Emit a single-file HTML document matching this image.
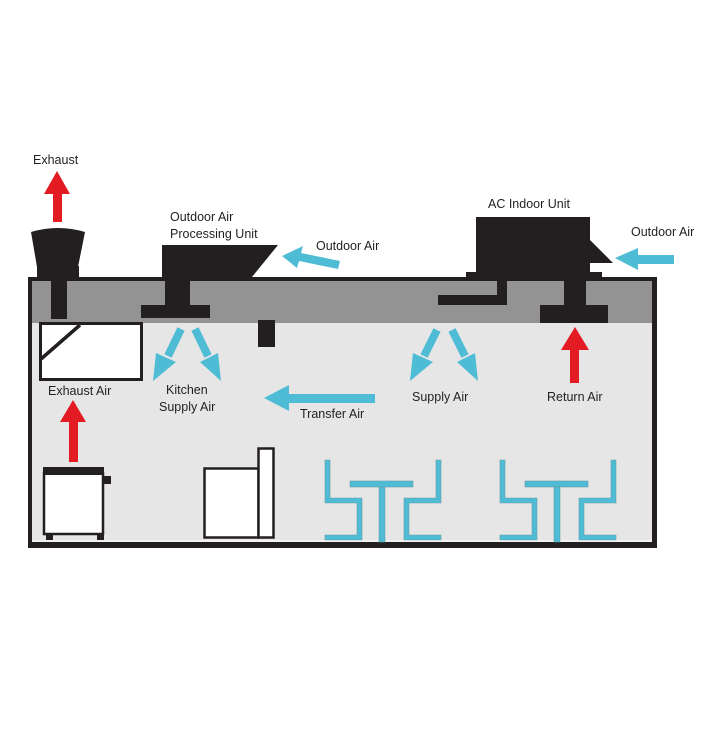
<!DOCTYPE html>
<html><head><meta charset="utf-8"><style>
html,body{margin:0;padding:0;background:#fff;}
svg{display:block;}
text{font-family:"Liberation Sans",sans-serif;font-size:12.5px;fill:#231f20;}
</style></head><body>
<svg width="720" height="752" viewBox="0 0 720 752">
<!-- building -->
<rect x="28" y="277" width="629" height="271" fill="#231f20"/>
<rect x="32" y="281" width="620" height="261" fill="#e6e6e6"/>
<rect x="32" y="281" width="620" height="42" fill="#939393"/>
<line x1="32" y1="541" x2="652" y2="541" stroke="#fff" stroke-width="1"/>

<!-- exhaust fan -->
<path d="M31,232 Q58,224 85,232 L78,267 L37,267 Z" fill="#231f20"/>
<rect x="37" y="266" width="42" height="11" fill="#231f20"/>
<rect x="51" y="281" width="16" height="38" fill="#231f20"/>
<polygon points="57,171 70,194 62,194 62,222 53,222 53,194 44,194" fill="#e31b23"/>
<text x="33" y="164">Exhaust</text>

<!-- OAPU -->
<polygon points="162,245 278,245 252,277 162,277" fill="#231f20"/>
<rect x="165" y="281" width="25" height="26" fill="#231f20"/>
<rect x="141" y="305" width="69" height="13" fill="#231f20"/>
<rect x="258" y="320" width="17" height="27" fill="#231f20"/>
<text x="170" y="221">Outdoor Air</text>
<text x="170" y="238">Processing Unit</text>
<text x="316" y="250">Outdoor Air</text>
<!-- outdoor air arrow left -->
<polygon points="282,256 303,246 301,253 340,261 338,269 299,261 297,268" fill="#4fbcd6"/>

<!-- hood -->
<rect x="40.5" y="323.5" width="101" height="56" fill="#fff" stroke="#231f20" stroke-width="3"/>
<line x1="41" y1="359" x2="80" y2="325" stroke="#231f20" stroke-width="3.5"/>
<text x="48" y="395">Exhaust Air</text>
<polygon points="73,400 86,422 78,422 78,462 69,462 69,422 60,422" fill="#e31b23"/>

<!-- kitchen supply arrows -->
<g stroke="#4fbcd6" stroke-width="8" fill="#4fbcd6">
<line x1="181" y1="329" x2="168" y2="356"/>
<line x1="195" y1="329" x2="208" y2="356"/>
<line x1="437" y1="330" x2="424" y2="356"/>
<line x1="452" y1="330" x2="465" y2="356"/>
</g>
<polygon points="153,381 156,353 176,362" fill="#4fbcd6"/>
<polygon points="221,381 200,362 218,353" fill="#4fbcd6"/>
<polygon points="410,381 413,353 433,362" fill="#4fbcd6"/>
<polygon points="478,381 457,362 475,353" fill="#4fbcd6"/>
<text x="166" y="394">Kitchen</text>
<text x="159" y="411">Supply Air</text>

<!-- transfer -->
<polygon points="264,398 289,385 289,394 375,394 375,403 289,403 289,411" fill="#4fbcd6"/>
<text x="300" y="418">Transfer Air</text>

<!-- AC unit -->
<rect x="476" y="217" width="114" height="56" fill="#231f20"/>
<polygon points="590,240 613,263 590,263" fill="#231f20"/>
<rect x="590" y="263" width="10" height="9" fill="#fff"/>
<rect x="466" y="272" width="136" height="5" fill="#231f20"/>
<rect x="497" y="281" width="10" height="24" fill="#231f20"/>
<rect x="438" y="295" width="69" height="10" fill="#231f20"/>
<rect x="564" y="281" width="22" height="26" fill="#231f20"/>
<rect x="540" y="305" width="68" height="18" fill="#231f20"/>
<text x="488" y="208">AC Indoor Unit</text>
<text x="631" y="236">Outdoor Air</text>
<polygon points="615,258 638,248 638,255 674,255 674,264 638,264 638,270" fill="#4fbcd6"/>
<polygon points="575,327 589,350 579,350 579,383 570,383 570,350 561,350" fill="#e31b23"/>
<text x="412" y="401">Supply Air</text>
<text x="547" y="401">Return Air</text>

<!-- stove -->
<rect x="44" y="473" width="59" height="61" fill="#fff" stroke="#231f20" stroke-width="2.5"/>
<rect x="43" y="467" width="61" height="8" fill="#231f20"/>
<rect x="104" y="476" width="7" height="8" fill="#231f20"/>
<rect x="46" y="533" width="7" height="7" fill="#231f20"/>
<rect x="97" y="533" width="7" height="7" fill="#231f20"/>

<!-- fridge -->
<rect x="204.5" y="468.5" width="54" height="69" fill="#fff" stroke="#231f20" stroke-width="2.5"/>
<rect x="258.5" y="448.5" width="15" height="89" fill="#fff" stroke="#231f20" stroke-width="2.5"/>

<!-- tables -->
<g id="t1" fill="#4fbcd6" stroke="#6a9aa8" stroke-width="0.6">
<polygon points="325,460 330,460 330,498 362,498 362,540 325,540 325,535 357,535 357,503 325,503"/>
<polygon points="441,460 436,460 436,498 404,498 404,540 441,540 441,535 409,535 409,503 441,503"/>
<rect x="350" y="481" width="63" height="6"/>
<rect x="379" y="487" width="6" height="55"/>
</g>
<use href="#t1" transform="translate(175,0)"/>
</svg>
</body></html>
